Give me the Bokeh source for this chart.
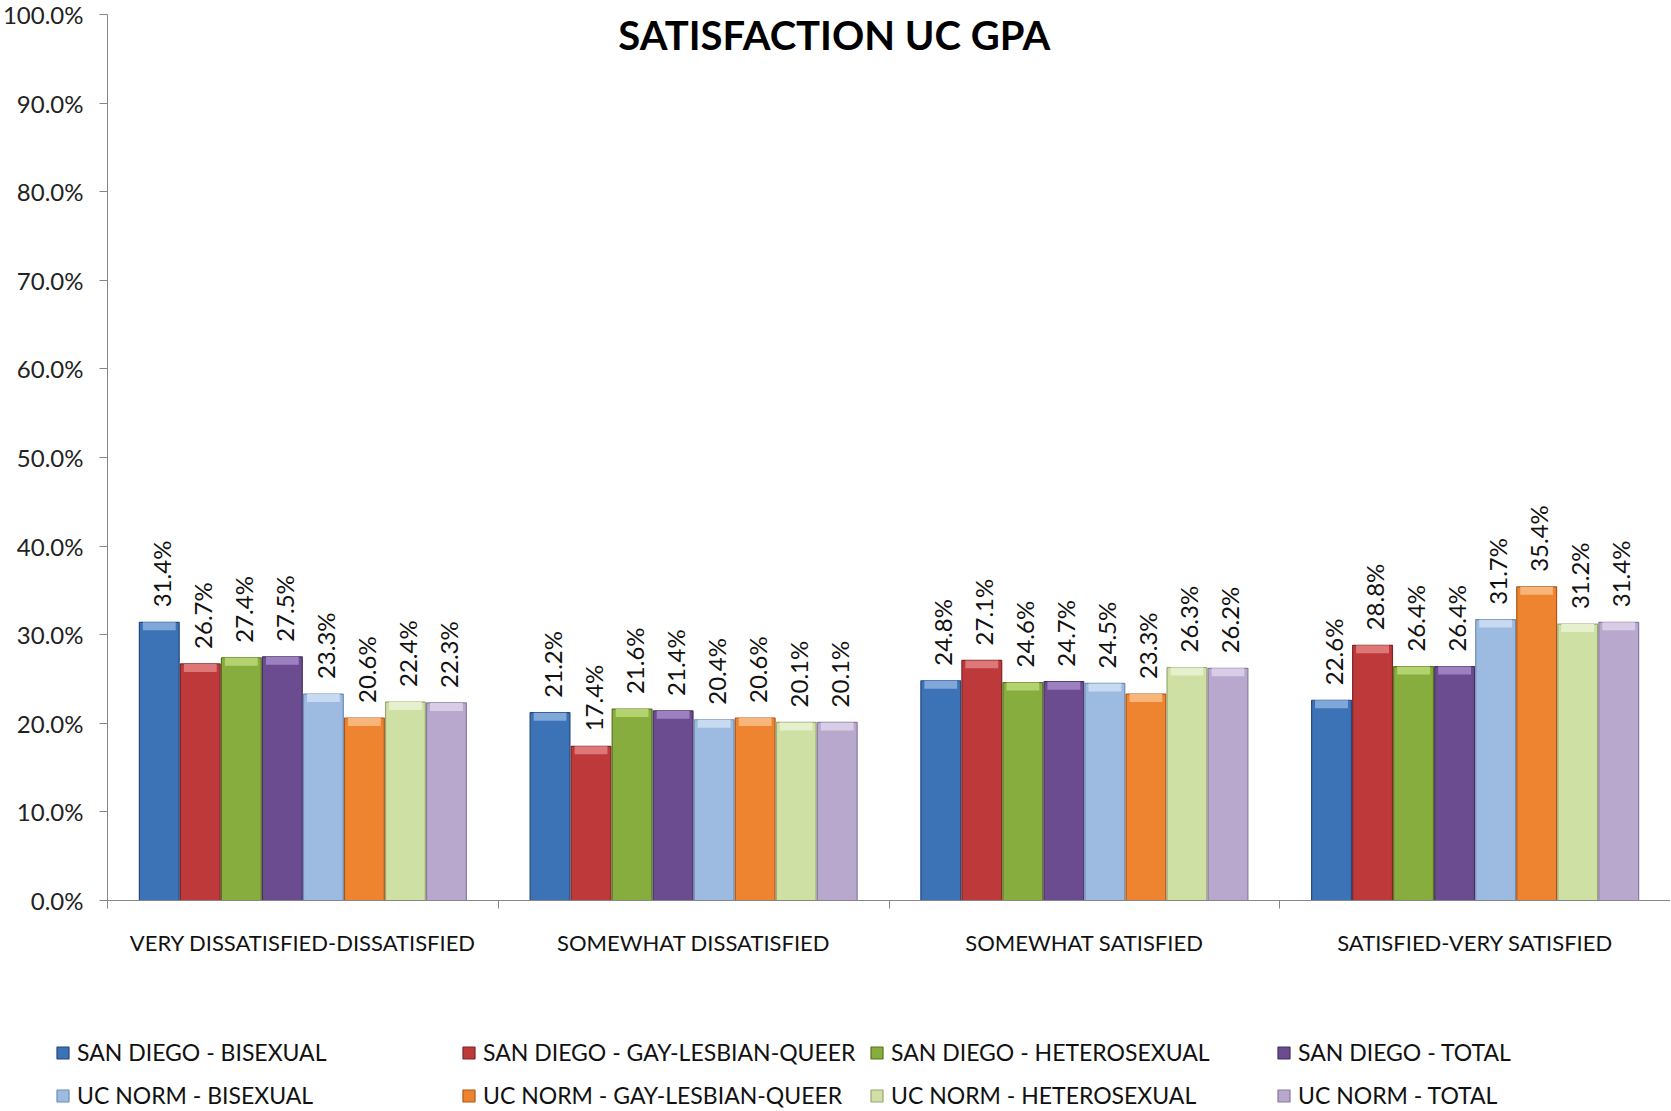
import math
from bokeh.plotting import figure
from bokeh.models import ColumnDataSource, FixedTicker, Label, Legend, LegendItem
from bokeh.core.properties import value
from bokeh.embed import file_html
from bokeh.resources import INLINE

# ---------------- data ----------------
categories = ["VERY DISSATISFIED-DISSATISFIED", "SOMEWHAT DISSATISFIED",
              "SOMEWHAT SATISFIED", "SATISFIED-VERY SATISFIED"]
series_names = ["SAN DIEGO - BISEXUAL", "SAN DIEGO - GAY-LESBIAN-QUEER",
                "SAN DIEGO - HETEROSEXUAL", "SAN DIEGO - TOTAL",
                "UC NORM - BISEXUAL", "UC NORM - GAY-LESBIAN-QUEER",
                "UC NORM - HETEROSEXUAL", "UC NORM - TOTAL"]
sd_bisexual = [31.4, 21.2, 24.8, 22.6]
sd_glq = [26.7, 17.4, 27.1, 28.8]
sd_hetero = [27.4, 21.6, 24.6, 26.4]
sd_total = [27.5, 21.4, 24.7, 26.4]
uc_bisexual = [23.3, 20.4, 24.5, 31.7]
uc_glq = [20.6, 20.6, 23.3, 35.4]
uc_hetero = [22.4, 20.1, 26.3, 31.2]
uc_total = [22.3, 20.1, 26.2, 31.4]
y_ticks = [0, 10, 20, 30, 40, 50, 60, 70, 80, 90, 100]
y_tick_labels = ["0.0%", "10.0%", "20.0%", "30.0%", "40.0%", "50.0%",
                 "60.0%", "70.0%", "80.0%", "90.0%", "100.0%"]
title_text = "SATISFACTION UC GPA"

series_values = [sd_bisexual, sd_glq, sd_hetero, sd_total,
                 uc_bisexual, uc_glq, uc_hetero, uc_total]
face = ["#3C73B7", "#BE3A3A", "#87AD3F", "#6B4C91",
        "#9DBBE0", "#EE8430", "#CFE0A4", "#B8A8CE"]
edge = ["#24497A", "#7E2526", "#56731F", "#46305F",
        "#6E8DB4", "#A9561A", "#97A874", "#8A7AA0"]
light = ["#7FA7DA", "#DE7878", "#B4D36F", "#9C80C0",
         "#C7DAF2", "#F8B57A", "#E6F0CC", "#D8CDE6"]

FONT = "Lato"
W, H = 1670, 1110
LEFT, TOP, ZERO_Y = 107, 14, 900          # pixel placement of the plotting area
ppx = (W - LEFT) / 4.0                     # px per category
ppy = (ZERO_Y - TOP) / 100.0               # px per percent
XMIN = -LEFT / ppx
YMIN = -(H - ZERO_Y) / ppy
YMAX = 100 + TOP / ppy

p = figure(width=W, height=H, x_range=(XMIN, 4), y_range=(YMIN, YMAX),
           output_backend="svg", toolbar_location=None, title=None,
           x_axis_location="above", y_axis_location="right",
           min_border_left=0, min_border_top=0, min_border_right=0,
           min_border_bottom=0)
p.outline_line_color = None
p.xgrid.visible = False
p.ygrid.visible = False

n = len(series_names)
bw = 0.105
renderers = []
for i in range(n):
    xs = [c + 0.5 + (i - (n - 1) / 2) * bw for c in range(len(categories))]
    vals = series_values[i]
    src = ColumnDataSource(dict(x=xs, top=vals,
                                hl=[v - 0.9 for v in vals],
                                lab=[f"{v:.1f}%" for v in vals]))
    r = p.vbar(x="x", top="top", bottom=0, width=bw * 0.97, source=src,
               fill_color=face[i], line_color=edge[i], line_width=1.2)
    p.vbar(x="x", top="top", bottom="hl", width=bw * 0.8, source=src,
           fill_color=light[i], line_color=None)
    p.text(x="x", y="top", text="lab", source=src, angle=math.pi / 2,
           text_align="left", text_baseline="middle", y_offset=-15, x_offset=2,
           text_font=value(FONT), text_font_size="24px", text_color="#111111")
    renderers.append(r)

# title
p.add_layout(Label(x=1.86, y=97.65, text=title_text, text_align="center",
                   text_baseline="middle", text_font=FONT, text_font_size="40px",
                   text_font_style="bold", text_color="#000000"))

# y axis (line + ticks at x=0), labels as text
yax = p.yaxis[0]
yax.fixed_location = 0
yax.bounds = (0, 100)
yax.ticker = FixedTicker(ticks=[], minor_ticks=y_ticks)
yax.axis_line_color = "#878787"
yax.major_tick_line_color = None
yax.major_tick_in = 0
yax.major_tick_out = 0
yax.minor_tick_line_color = "#878787"
yax.minor_tick_in = 8
yax.minor_tick_out = 0
yax.major_label_standoff = 0
p.text(x=[0] * len(y_ticks), y=y_ticks, text=y_tick_labels, x_offset=-24,
       text_align="right", text_baseline="middle", text_font=value(FONT),
       text_font_size="24px", text_color="#222222")

# x axis (line + separator ticks at y=0), category labels as text
centers = [c + 0.5 for c in range(len(categories))]
xax = p.xaxis[0]
xax.fixed_location = 0
xax.bounds = (0, 4)
xax.ticker = FixedTicker(ticks=[], minor_ticks=list(range(len(categories) + 1)))
xax.axis_line_color = "#878787"
xax.major_tick_line_color = None
xax.major_tick_in = 0
xax.major_tick_out = 0
xax.minor_tick_line_color = "#878787"
xax.minor_tick_in = 8
xax.minor_tick_out = 0
xax.major_label_standoff = 0
p.text(x=centers, y=[0] * len(centers), text=categories, y_offset=42,
       text_align="center", text_baseline="middle", text_font=value(FONT),
       text_font_size="22px", text_color="#111111")

# legends: 4 columns of 2 rows
col_x = [55, 461, 869, 1276]
for c in range(4):
    items = [LegendItem(label=series_names[c], renderers=[renderers[c]]),
             LegendItem(label=series_names[c + 4], renderers=[renderers[c + 4]])]
    lg = Legend(items=items, location=(col_x[c], 1), orientation="vertical",
                padding=0, margin=0, spacing=15, border_line_color=None,
                background_fill_alpha=0, glyph_width=15, glyph_height=15,
                label_standoff=7, label_text_font=FONT,
                label_text_font_size="23px", label_text_color="#111111")
    p.add_layout(lg, "center")

open("out.html", "w").write(file_html(p, INLINE))
